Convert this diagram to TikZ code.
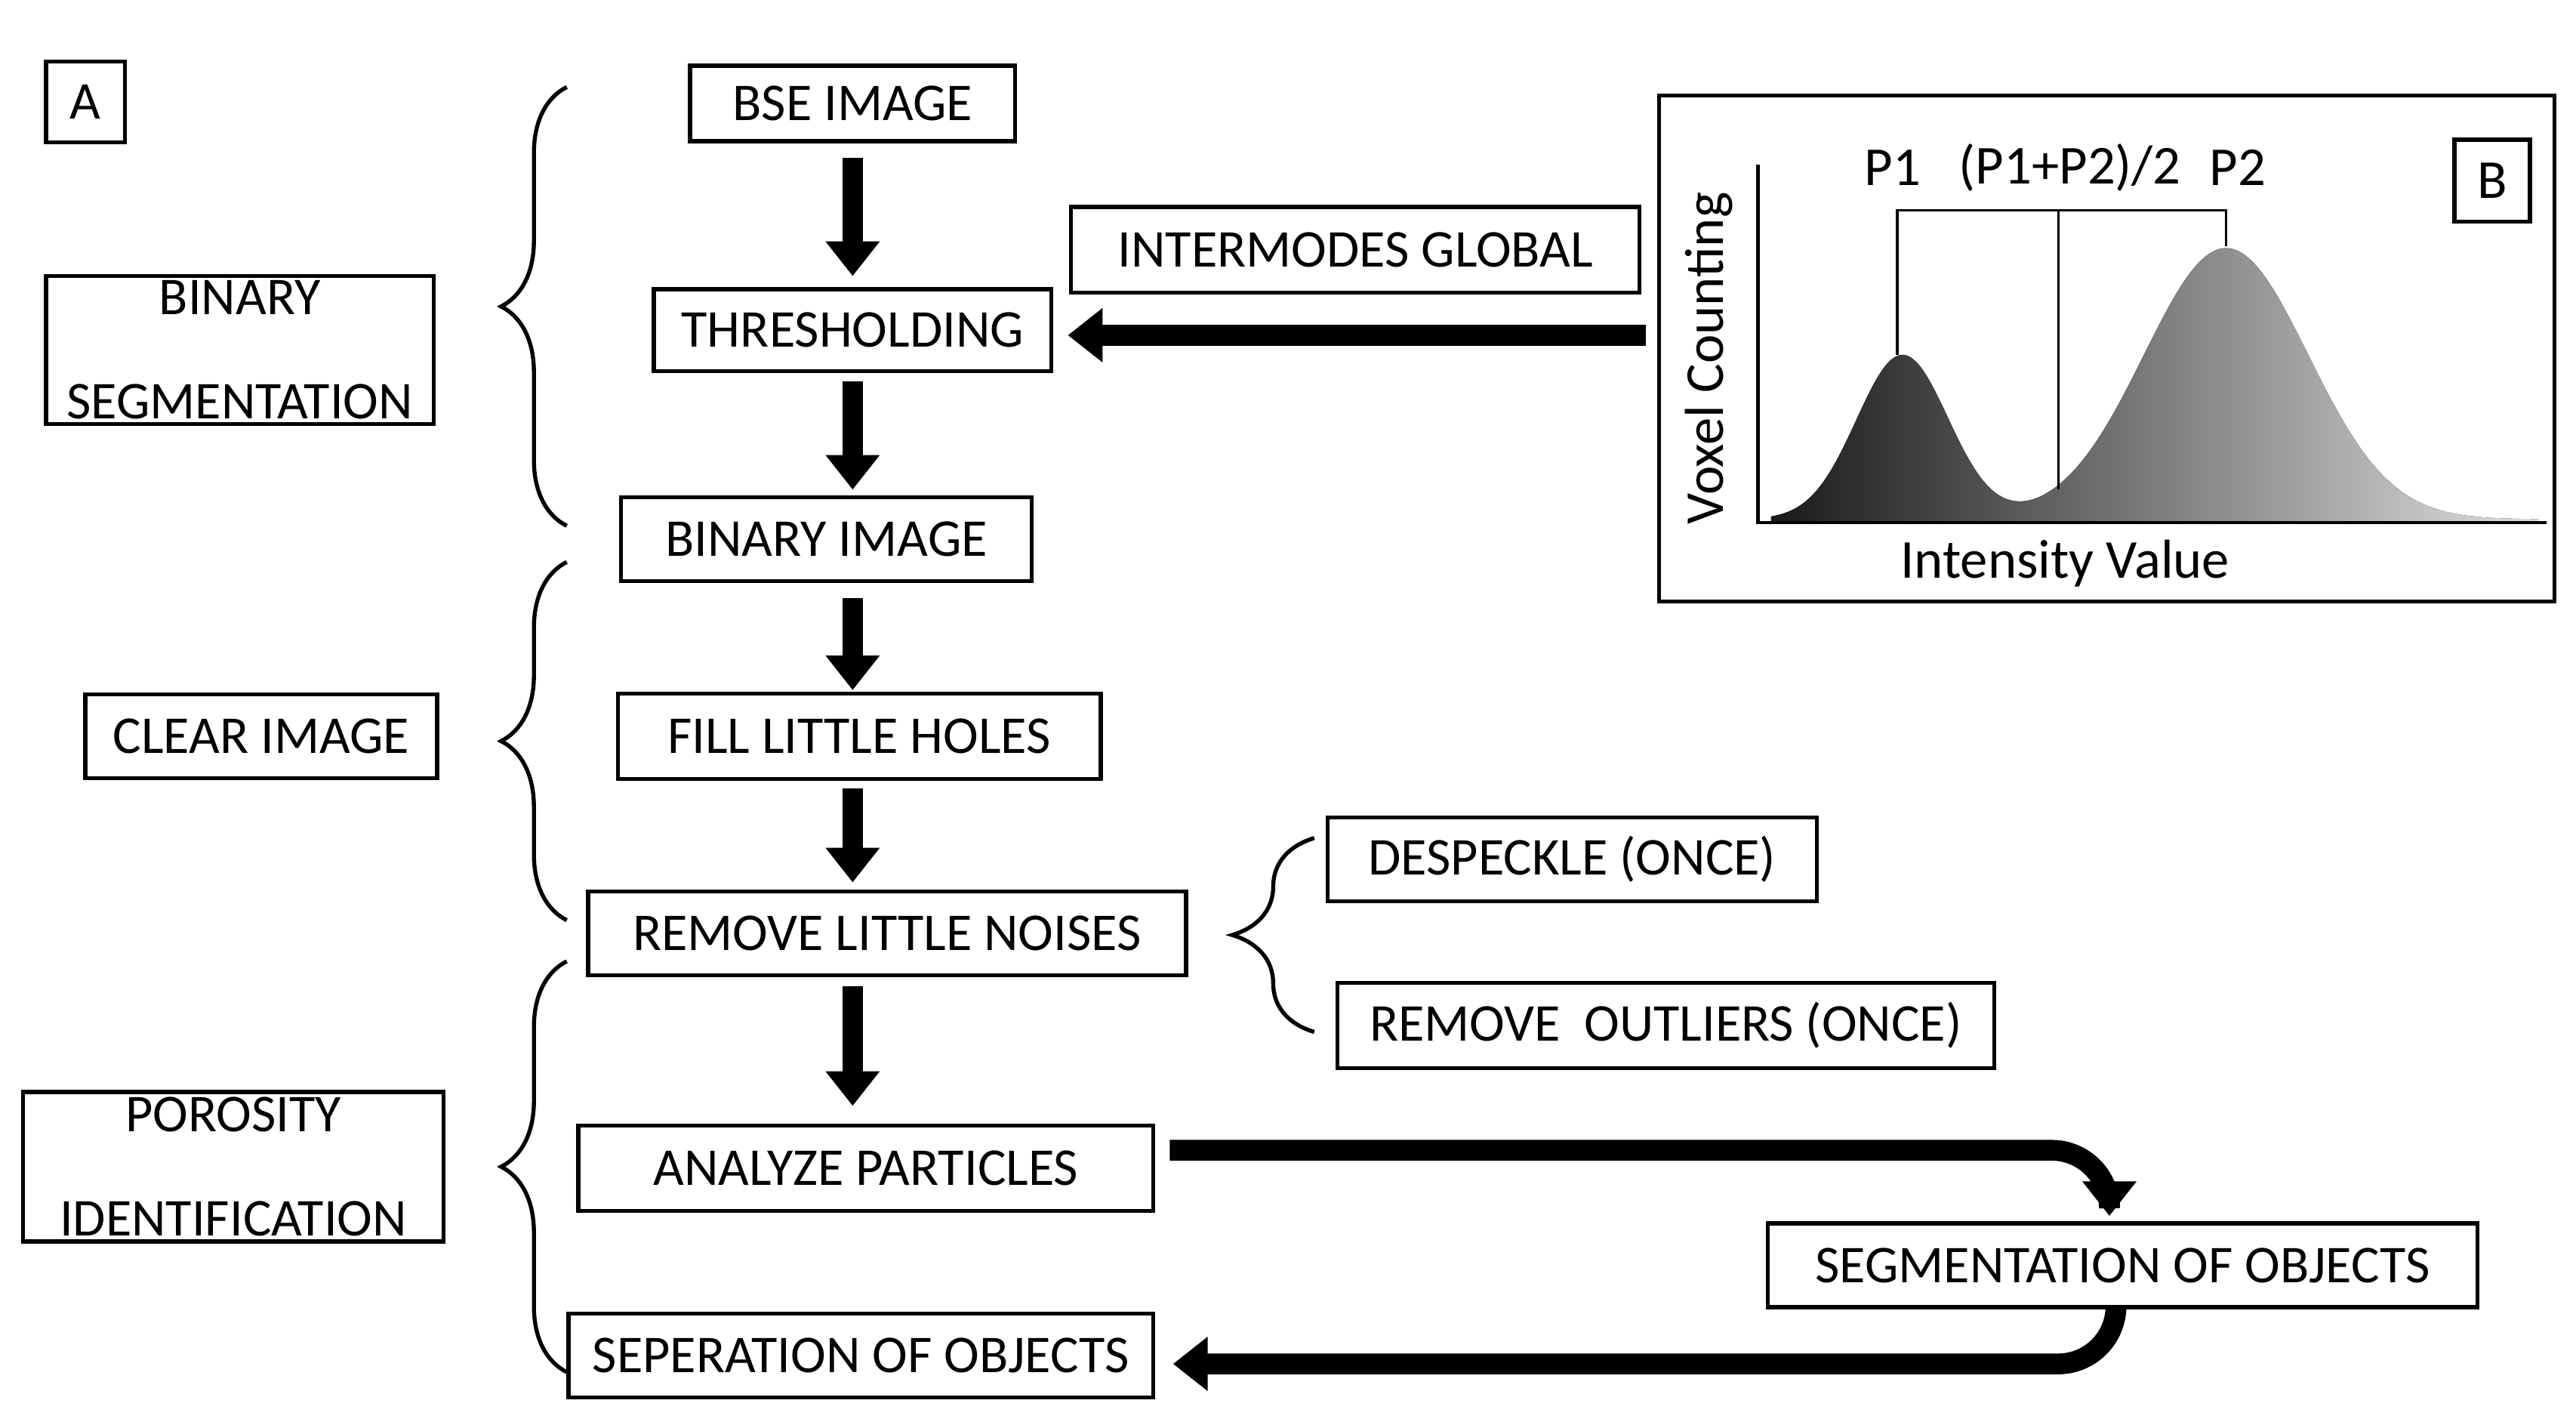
\documentclass[tikz,border=0pt]{standalone}
\usepackage{fontspec}
\setmainfont{Carlito}
\usetikzlibrary{arrows.meta,decorations.pathreplacing,calc}
\tikzset{
    box/.style = {draw, line width=0.7pt, inner sep=0pt, font=\fontsize{9.2}{11}\selectfont, align=center},
    sz/.style 2 args = {minimum width=#1*0.01cm, minimum height=#2*0.01cm},
    flow/.style = {line width=3.6pt, -{Triangle[width=9pt,length=6pt]}},
    curly/.style = {decorate, decoration={brace, amplitude=#1*0.01cm}, line width=0.7pt},
}
\begin{document}
\begin{tikzpicture}[x=0.01cm, y=-0.01cm]
    \useasboundingbox (0,0) rectangle (1568,867);
    % --- Flow chart
    \node[box, sz={48}{49}] (A) at (52,62) {A};
    \node[box, sz={198}{46}] (bse) at (519,63) {BSE IMAGE};
    \node[box, sz={242}{50}] (thr) at (519,201) {THRESHOLDING};
    \node[box, sz={250}{51}] (bin) at (503,328) {BINARY IMAGE};
    \node[box, sz={294}{52}] (fill) at (523,448) {FILL LITTLE HOLES};
    \node[box, sz={364}{51}] (noise) at (540,568) {REMOVE LITTLE NOISES};
    \node[box, sz={350}{52}] (ana) at (527,711) {ANALYZE PARTICLES};
    \node[box, sz={356}{51}] (sep) at (524,825) {SEPERATION OF OBJECTS};
    \node[box, sz={432}{51}] (seg) at (1292,770) {SEGMENTATION OF OBJECTS};
    \node[box, sz={298}{51}] (desp) at (957,523) {DESPECKLE (ONCE)};
    \node[box, sz={400}{52}] (outl) at (1014,624) {REMOVE\ \ OUTLIERS (ONCE)};
    \node[box, sz={346}{52}] (inter) at (825,152) {INTERMODES GLOBAL};
    % --- Stage labels
    \node[box, sz={236}{90}, font=\fontsize{9.2}{18}\selectfont] (binseg) at (146,213) {BINARY\\SEGMENTATION};
    \node[box, sz={214}{51}] (clear) at (159,448) {CLEAR IMAGE};
    \node[box, sz={256}{91}, font=\fontsize{9.2}{18}\selectfont] (poro) at (142,710) {POROSITY\\IDENTIFICATION};
    % --- Braces
    \draw[curly=40] (345,320) -- (345,53);
    \draw[curly=40] (345,560) -- (345,342);
    \draw[curly=40] (345,835) -- (345,585);
    \draw[curly=50] (800,628) -- (800,510);
    % --- Arrows
    \draw[flow] (519,96) -- (519,168);
    \draw[flow] (519,232) -- (519,298);
    \draw[flow] (519,364) -- (519,420);
    \draw[flow] (519,480) -- (519,537);
    \draw[flow] (519,600) -- (519,673);
    \coordinate (out) at (1002,204);
    \coordinate (thrin) at (650,204);
    \coordinate (anaout) at (712,700);
    \coordinate (segin) at (1284,740);
    \coordinate (segout) at (1288,796);
    \coordinate (sepin) at (714,830);
    \draw[flow] (out) -- (thrin);
    \draw[flow, rounded corners=10pt] (anaout) -- (segin |- anaout) -- (segin);
    \draw[flow, rounded corners=10pt] (segout) -- (segout |- sepin) -- (sepin);
    % --- Panel B
    \node[draw, line width=0.7pt, sz={545}{308}, inner sep=0pt] (panel) at (1282.5,212) {};
    \node[box, sz={46}{50}, font=\fontsize{9.5}{11}\selectfont] (B) at (1517,110) {B};
    \fill[shading=axis, left color=black!90, right color=gray!25, shading angle=90]
        plot[domain=1078:1545, samples=160, smooth] (\x, {316 - 100*exp(-((\x-1158)/28)^2/2) - 165*exp(-((\x-1355)/50)^2/2)}) -- (1545,318) -- (1078,318) -- cycle;
    \draw[line width=0.6pt] (1070,100) -- (1070,318) -- (1550,318);
    \draw[line width=0.5pt] (1155,216) -- (1155,128) -- (1355,128) -- (1355,150);
    \draw[line width=0.5pt] (1253,128) -- (1253,298);
    \node[font=\fontsize{9.5}{11}\selectfont] (p1) at (1152,102) {P1};
    \node[font=\fontsize{9.5}{11}\selectfont] (pm) at (1260,102) {(P1+P2)/2};
    \node[font=\fontsize{9.5}{11}\selectfont] (p2) at (1362,102) {P2};
    \node[font=\fontsize{9.5}{11}\selectfont, rotate=90] (ylab) at (1040,218) {Voxel Counting};
    \node[font=\fontsize{9.5}{11}\selectfont] (xlab) at (1257,343) {Intensity Value};
\end{tikzpicture}
\end{document}
